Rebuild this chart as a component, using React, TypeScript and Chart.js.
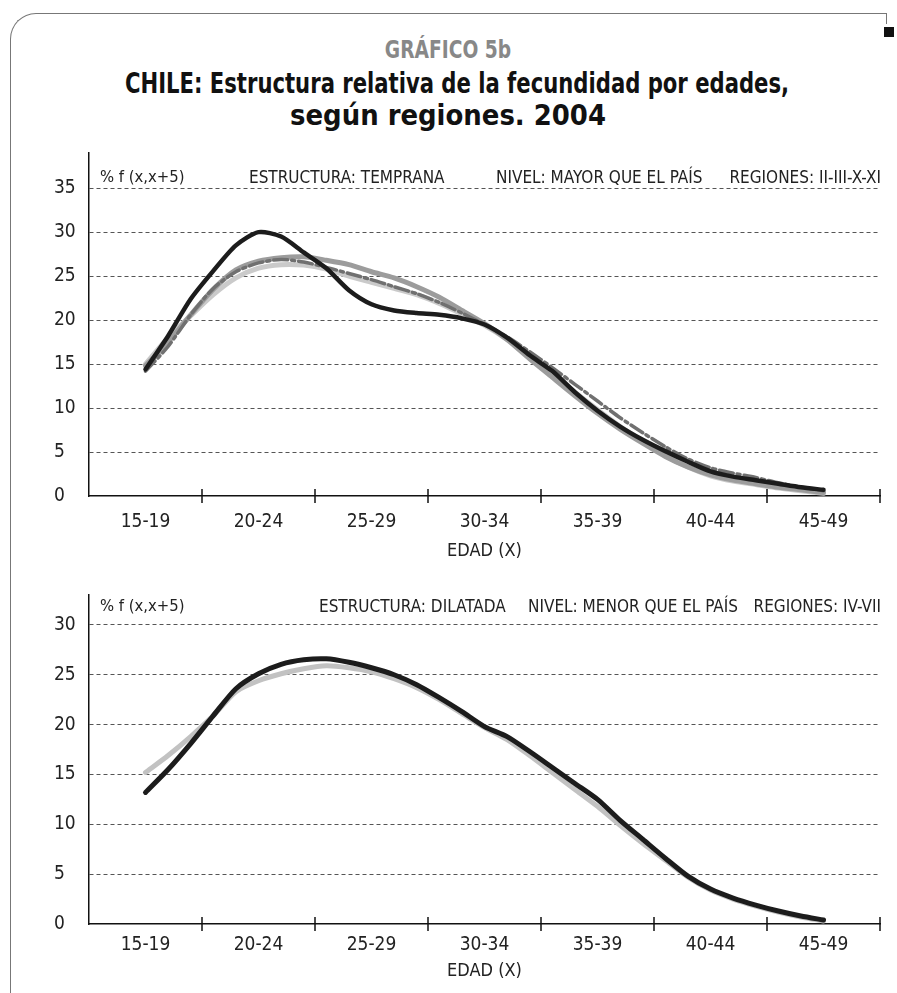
import React, { useEffect, useRef } from "react";
import { Chart, registerables } from "chart.js";

Chart.register(...registerables);

// ---------- DATA ----------
const AGE_GROUPS = ["15-19", "20-24", "25-29", "30-34", "35-39", "40-44", "45-49"];
const GROUP_CENTERS = [17.5, 22.5, 27.5, 32.5, 37.5, 42.5, 47.5];
const GROUP_BOUNDS = [20, 25, 30, 35, 40, 45, 50];
const AGES = [
  17.5, 18.5, 19.5, 20.5, 21.5, 22.5, 23.5, 24.5, 25.5, 26.5, 27.5, 28.5, 29.5, 30.5, 31.5, 32.5,
  33.5, 34.5, 35.5, 36.5, 37.5, 38.5, 39.5, 40.5, 41.5, 42.5, 43.5, 44.5, 45.5, 46.5, 47.5,
];
const Y_TICKS_TOP = [0, 5, 10, 15, 20, 25, 30, 35];
const Y_TICKS_BOTTOM = [0, 5, 10, 15, 20, 25, 30];

// Top panel: regions II, III, X, XI
const TOP_BLACK = [
  14.4, 18.2, 22.4, 25.6, 28.5, 30.0, 29.5, 27.7, 25.9, 23.4, 21.8, 21.1, 20.8, 20.6, 20.2, 19.5,
  18.0, 16.0, 14.2, 11.8, 9.7, 7.9, 6.4, 5.1, 3.9, 2.8, 2.2, 1.8, 1.4, 1.0, 0.7,
];
const TOP_MID = [
  14.8, 17.5, 20.6, 23.5, 25.7, 26.7, 27.1, 27.2, 26.8, 26.3, 25.5, 24.8, 23.8, 22.6, 21.1, 19.6,
  17.8, 15.6, 13.5, 11.4, 9.4, 7.6, 6.0, 4.5, 3.3, 2.4, 1.8, 1.4, 1.0, 0.7, 0.4,
];
const TOP_LIGHT = [
  15.0, 18.0, 20.5, 22.9, 24.8, 25.9, 26.3, 26.25, 25.8, 25.0, 24.3, 23.6, 22.9, 21.9, 20.7, 19.4,
  17.8, 15.9, 13.9, 11.8, 9.8, 7.9, 6.2, 4.6, 3.3, 2.3, 1.7, 1.3, 0.9, 0.6, 0.3,
];
const TOP_DASH = [
  14.2, 17.0, 20.6, 23.6, 25.5, 26.5, 26.9, 26.6, 26.0, 25.3, 24.6, 23.8, 23.0, 22.0, 20.8, 19.5,
  18.1, 16.4, 14.6, 12.7, 10.8, 8.9, 7.2, 5.6, 4.2, 3.2, 2.6, 2.1, 1.5, 1.0, 0.6,
];

// Bottom panel: regions IV, VII
const BOT_BLACK = [
  13.2, 15.5, 18.1, 20.9, 23.6, 25.1, 26.05, 26.5, 26.6, 26.25, 25.7, 25.0, 24.0, 22.7, 21.3, 19.8,
  18.8, 17.3, 15.7, 14.1, 12.5, 10.4, 8.5, 6.6, 4.8, 3.5, 2.6, 1.9, 1.3, 0.8, 0.4,
];
const BOT_LIGHT = [
  15.2, 16.9, 18.8, 20.9, 23.3, 24.4, 25.1, 25.6, 25.9, 25.7, 25.3, 24.6, 23.7, 22.5, 21.1, 19.7,
  18.5, 16.9, 15.2, 13.5, 11.8, 9.9, 8.1, 6.4, 4.7, 3.4, 2.5, 1.8, 1.2, 0.7, 0.3,
];

// ---------- STYLE ----------
const NARROW = "'Liberation Sans Narrow', 'Arial Narrow', 'DejaVu Sans Condensed', sans-serif";

const toPoints = (vals: number[]) => AGES.map((a, i) => ({ x: a, y: vals[i] }));

const boundaryTicks = {
  id: "boundaryTicks",
  afterDraw(chart: any) {
    const { ctx, scales } = chart;
    const xs = scales.x;
    const y0 = scales.y.getPixelForValue(0);
    ctx.save();
    ctx.strokeStyle = "#111";
    ctx.lineWidth = 1.5;
    GROUP_BOUNDS.forEach((b) => {
      const px = xs.getPixelForValue(b);
      ctx.beginPath();
      ctx.moveTo(px, y0 - 7);
      ctx.lineTo(px, y0 + 7);
      ctx.stroke();
    });
    ctx.restore();
  },
};

type PanelProps = {
  datasets: any[];
  yMax: number;
  yTicks: number[];
  height: number;
  padTop: number;
  xScaleHeight: number;
  xLabelPad: number;
  xTitlePadBottom: number;
};

function Panel(p: PanelProps) {
  const ref = useRef<HTMLCanvasElement | null>(null);
  useEffect(() => {
    if (!ref.current) return;
    const chart = new Chart(ref.current, {
      type: "line",
      data: { datasets: p.datasets },
      plugins: [boundaryTicks],
      options: {
        animation: false,
        responsive: false,
        maintainAspectRatio: false,
        layout: { padding: { left: 54, right: 17, top: p.padTop, bottom: 0 } },
        plugins: { legend: { display: false }, tooltip: { enabled: false }, title: { display: false } },
        elements: { point: { radius: 0 }, line: { tension: 0.25, borderCapStyle: "round", borderJoinStyle: "round" } },
        scales: {
          x: {
            type: "linear",
            min: 15,
            max: 50,
            afterBuildTicks: (s: any) => {
              s.ticks = GROUP_CENTERS.map((v) => ({ value: v }));
            },
            ticks: {
              autoSkip: false,
              maxRotation: 0,
              padding: p.xLabelPad,
              color: "#222",
              font: { family: NARROW, size: 19 },
              callback: (_v: any, i: number) => AGE_GROUPS[i],
            },
            grid: { display: false, drawTicks: false },
            border: { display: true, color: "#111", width: 1.5 },
            title: {
              display: true,
              text: "EDAD (X)",
              color: "#222",
              font: { family: NARROW, size: 18 },
              padding: { top: 0, bottom: p.xTitlePadBottom },
            },
            afterFit: (s: any) => {
              s.height = p.xScaleHeight;
              s.paddingLeft = 0;
              s.paddingRight = 0;
            },
          },
          y: {
            type: "linear",
            min: 0,
            max: p.yMax,
            afterBuildTicks: (s: any) => {
              s.ticks = p.yTicks.map((v) => ({ value: v }));
            },
            ticks: { padding: 0, crossAlign: "far", color: "#222", font: { family: NARROW, size: 19 } },
            grid: {
              drawTicks: false,
              lineWidth: 1,
              color: (c: any) => (c.tick && c.tick.value === 0 ? "rgba(0,0,0,0)" : "#555"),
            },
            border: { display: true, color: "#111", width: 1.5, dash: [4, 3] },
            afterFit: (s: any) => {
              s.width = 35;
              s.paddingTop = 0;
              s.paddingBottom = 0;
            },
          },
        },
      } as any,
    });
    return () => chart.destroy();
  }, []);
  return <canvas ref={ref} width={897} height={p.height} style={{ display: "block", width: 897, height: p.height }} />;
}

const hdr: React.CSSProperties = {
  position: "absolute",
  fontFamily: NARROW,
  color: "#222",
  whiteSpace: "nowrap",
  lineHeight: 1,
};

export default function App() {
  const topSets = [
    { data: toPoints(TOP_BLACK), borderColor: "#1c1c1c", borderWidth: 4.5 },
    { data: toPoints(TOP_DASH), borderColor: "#707070", borderWidth: 3.5, borderDash: [14, 4, 3, 4] },
    { data: toPoints(TOP_MID), borderColor: "#9c9c9c", borderWidth: 5 },
    { data: toPoints(TOP_LIGHT), borderColor: "#cacaca", borderWidth: 5 },
  ];
  const botSets = [
    { data: toPoints(BOT_BLACK), borderColor: "#1c1c1c", borderWidth: 5 },
    { data: toPoints(BOT_LIGHT), borderColor: "#c2c2c2", borderWidth: 5 },
  ];
  return (
    <div style={{ position: "absolute", left: 0, top: 0, width: 897, height: 993, overflow: "hidden", background: "#fff" }}>
      {/* frame */}
      <div
        style={{
          position: "absolute",
          left: 10,
          top: 13,
          width: 876,
          height: 1100,
          borderTop: "1.5px solid #777",
          borderLeft: "1.5px solid #777",
          borderTopLeftRadius: 26,
        }}
      />
      <div style={{ position: "absolute", left: 886, top: 13, width: 0, height: 11, borderRight: "1.5px solid #777" }} />
      <div style={{ position: "absolute", left: 884, top: 27, width: 10, height: 10, background: "#111" }} />

      {/* titles */}
      <div style={{ ...hdr, left: 448, top: 37, transform: "translateX(-50%) scaleX(0.83)", fontSize: 25, fontWeight: "bold", color: "#888" }}>
        GRÁFICO 5b
      </div>
      <div style={{ ...hdr, left: 457, top: 70, transform: "translateX(-50%) scaleX(0.84)", fontSize: 28, fontWeight: "bold", color: "#111" }}>
        CHILE: Estructura relativa de la fecundidad por edades,
      </div>
      <div style={{ ...hdr, left: 448, top: 102, transform: "translateX(-50%) scaleX(1.03)", fontSize: 28, fontWeight: "bold", color: "#111" }}>
        según regiones. 2004
      </div>

      {/* top panel */}
      <div style={{ position: "absolute", left: 0, top: 150 }}>
        <Panel
          datasets={topSets}
          yMax={39}
          yTicks={Y_TICKS_TOP}
          height={420}
          padTop={3}
          xScaleHeight={74}
          xLabelPad={15}
          xTitlePadBottom={8}
        />
      </div>
      <div style={{ ...hdr, left: 100, top: 169, fontSize: 16.5 }}>% f (x,x+5)</div>
      <div style={{ ...hdr, left: 249, top: 169, fontSize: 17 }}>ESTRUCTURA: TEMPRANA</div>
      <div style={{ ...hdr, left: 496, top: 169, fontSize: 17 }}>NIVEL: MAYOR QUE EL PAÍS</div>
      <div style={{ ...hdr, right: 897 - 881, top: 169, fontSize: 17 }}>REGIONES: II-III-X-XI</div>

      {/* bottom panel */}
      <div style={{ position: "absolute", left: 0, top: 590 }}>
        <Panel
          datasets={botSets}
          yMax={33}
          yTicks={Y_TICKS_BOTTOM}
          height={403}
          padTop={5}
          xScaleHeight={69}
          xLabelPad={10}
          xTitlePadBottom={11}
        />
      </div>
      <div style={{ ...hdr, left: 100, top: 598, fontSize: 16.5 }}>% f (x,x+5)</div>
      <div style={{ ...hdr, left: 319, top: 598, fontSize: 17 }}>ESTRUCTURA: DILATADA</div>
      <div style={{ ...hdr, left: 528, top: 598, fontSize: 17 }}>NIVEL: MENOR QUE EL PAÍS</div>
      <div style={{ ...hdr, right: 897 - 881, top: 598, fontSize: 17 }}>REGIONES: IV-VII</div>
    </div>
  );
}
